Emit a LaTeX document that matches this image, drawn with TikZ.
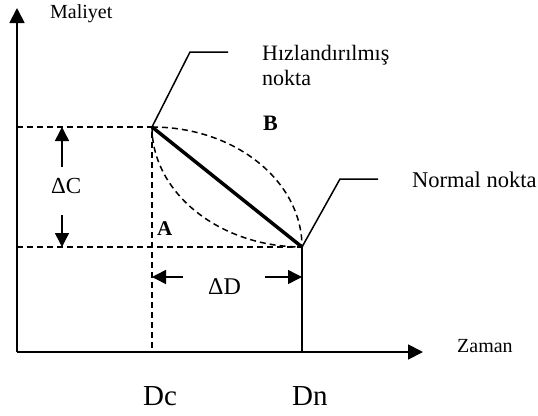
\documentclass[tikz,border=0pt]{standalone}
\usepackage{fontspec}
\setmainfont{Liberation Serif}
\usetikzlibrary{arrows.meta}
\begin{document}
\begin{tikzpicture}[x=1pt,y=-1pt,
  axis/.style={line width=1.8pt,-{Triangle[length=15pt,width=15pt]}},
  guide/.style={line width=1.5pt,dash pattern=on 6pt off 4pt},
  leader/.style={line width=1.5pt},
  delta/.style={line width=1.5pt,-{Triangle[length=14pt,width=14pt]}},
  lbl/.style={inner sep=0pt,anchor=base west}]
\useasboundingbox (0,0) rectangle (538,415);

% points and axes
\coordinate (O) at (17,352);
\coordinate (ytip) at (17,8);
\coordinate (xtip) at (423,352);
\coordinate (C) at (152,127);   % crash point
\coordinate (N) at (302,247);   % normal point
\coordinate (Cx) at (17,127);
\coordinate (Nx) at (17,247);
\coordinate (Cb) at (152,352);
\coordinate (Nb) at (302,352);

\draw[axis] (O) -- (ytip);
\draw[axis] (O) -- (xtip);

% guide lines
\draw[guide] (Cx) -- (C) -- (Cb);
\draw[guide] (Nx) -- (N);
\draw[leader] (N) -- (Nb);

% curves B (upper) and A (lower)
\draw[guide] (C) .. controls (235,127) and (302,181) .. (N);
\draw[guide] (C) .. controls (152,193) and (220,247) .. (N);

% straight cost-time line
\draw[line width=3.5pt] (C) -- (N);

% leaders to the labels
\coordinate (h1) at (190,52);
\coordinate (h2) at (228,52);
\coordinate (n1) at (340,179);
\coordinate (n2) at (378,179);
\draw[leader] (C) -- (h1) -- (h2);
\draw[leader] (N) -- (n1) -- (n2);

% delta arrows
\coordinate (cu0) at (62,167);
\coordinate (cu1) at (62,127);
\coordinate (cd0) at (62,215);
\coordinate (cd1) at (62,247);
\coordinate (dl0) at (183,277);
\coordinate (dl1) at (152,277);
\coordinate (dr0) at (265,277);
\coordinate (dr1) at (302,277);
\draw[delta] (cu0) -- (cu1);
\draw[delta] (cd0) -- (cd1);
\draw[delta] (dl0) -- (dl1);
\draw[delta] (dr0) -- (dr1);

% labels
\node[lbl,font=\fontsize{20}{22}\selectfont] (maliyet) at (50,18) {Maliyet};
\node[lbl,font=\fontsize{20}{22}\selectfont] (zaman) at (457,352) {Zaman};
\node[lbl,font=\fontsize{22}{24}\selectfont] (hiz1) at (262,60) {Hızlandırılmış};
\node[lbl,font=\fontsize{22}{24}\selectfont] (hiz2) at (262,85) {nokta};
\node[lbl,font=\fontsize{22.5}{24}\selectfont] (normal) at (412,187) {Normal nokta};
\node[lbl,font=\fontsize{22}{24}\selectfont\bfseries] (B) at (263,130) {B};
\node[lbl,font=\fontsize{21}{23}\selectfont\bfseries] (A) at (157,235) {A};
\node[lbl,font=\fontsize{23}{25}\selectfont] (dC) at (51,193) {ΔC};
\node[lbl,font=\fontsize{24}{26}\selectfont] (dD) at (208,294) {ΔD};
\node[lbl,font=\fontsize{29}{31}\selectfont] (Dc) at (143,405) {Dc};
\node[lbl,font=\fontsize{29}{31}\selectfont] (Dn) at (292,405) {Dn};
\end{tikzpicture}
\end{document}
